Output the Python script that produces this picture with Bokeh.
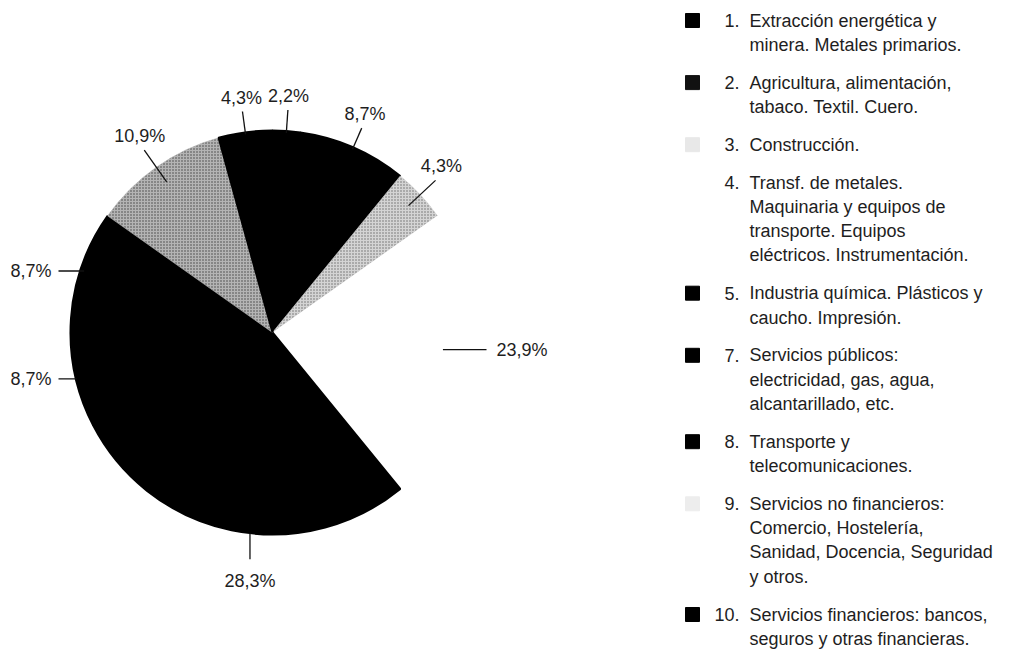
import math
from bokeh.plotting import figure
from bokeh.models import Range1d
from bokeh.core.properties import value
from bokeh.embed import file_html
from bokeh.resources import INLINE

# ---------------- data ----------------
numbers = ["1.", "2.", "3.", "4.", "5.", "7.", "8.", "9.", "10."]
descriptions = [
    ["Extracción energética y", "minera. Metales primarios."],
    ["Agricultura, alimentación,", "tabaco. Textil. Cuero."],
    ["Construcción."],
    ["Transf. de metales.", "Maquinaria y equipos de", "transporte. Equipos",
     "eléctricos. Instrumentación."],
    ["Industria química. Plásticos y", "caucho. Impresión."],
    ["Servicios públicos:", "electricidad, gas, agua,", "alcantarillado, etc."],
    ["Transporte y", "telecomunicaciones."],
    ["Servicios no financieros:", "Comercio, Hostelería,",
     "Sanidad, Docencia, Seguridad", "y otros."],
    ["Servicios financieros: bancos,", "seguros y otras financieras."],
]
shares = [2.2, 8.7, 4.3, 23.9, 28.3, 8.7, 8.7, 10.9, 4.3]

# ---------------- styles ----------------
slice_colors = ["#000000", "#000000", "#d4d4d4", "#ffffff", "#000000",
                "#000000", "#000000", "#b4b4b4", "#000000"]
slice_hatch = [None, None, "#6a6a6a", None, None, None, None, "#404040", None]
marker_colors = ["#000000", "#111111", "#e8e8e8", None, "#000000",
                 "#000000", "#000000", "#ededed", "#000000"]
leader_inner = [200, 200, 186, 172, 200, 200, 200, 184, 200]
FONT = "Liberation Sans"
TXT = "#1e1e1e"

W, H = 1003, 651
p = figure(width=W, height=H, output_backend="svg", toolbar_location=None,
           x_range=Range1d(0, W), y_range=Range1d(-H, 0), min_border=0)
p.axis.visible = False
p.grid.visible = False
p.outline_line_color = None
p.background_fill_color = "white"
p.border_fill_color = "white"


def X(px):
    return px


def Y(py):
    return -py


# ---------------- pie ----------------
cx, cy, R = X(272), Y(332), 202
total = sum(shares)
cum = 0.0
for i, v in enumerate(shares):
    t0 = cum / total * 2 * math.pi
    cum += v
    t1 = cum / total * 2 * math.pi
    col = slice_colors[i]
    kw = {}
    if slice_hatch[i]:
        kw = dict(hatch_pattern="dot", hatch_color=slice_hatch[i],
                  hatch_scale=3, hatch_weight=1.2)
    p.wedge(x=[cx], y=[cy], radius=R,
            start_angle=math.pi / 2 - t0, end_angle=math.pi / 2 - t1,
            direction="clock", fill_color=col,
            line_color=None if col == "#ffffff" else col,
            line_width=2 if col == "#000000" else 0.6, **kw)

# labels with leaders
cum = 0.0
r_out = 223
for i, v in enumerate(shares):
    tm = (cum + v / 2) / total * 2 * math.pi
    cum += v
    s, c = math.sin(tm), math.cos(tm)
    lab = f"{v:.1f}".replace(".", ",") + "%"
    if abs(s) > 0.9:
        # horizontal leader
        x0 = cx + leader_inner[i] * s
        y0 = cy + leader_inner[i] * c + 6 * s
        x1, y1 = cx + math.copysign(R + 12, s), y0
        if s > 0:
            tx, ty, al = x1 + 10, y1, "left"
        else:
            tx, ty, al = x1 - 7, y1, "right"
    elif c < -0.9:
        # vertical leader below
        x0 = cx + R * s * 0.55
        y0 = cy - math.sqrt(R * R - (x0 - cx) ** 2)
        x1, y1 = x0, y0 - 26
        tx, ty, al = x1, y1 - 22, "center"
    else:
        x0, y0 = cx + leader_inner[i] * s, cy + leader_inner[i] * c
        x1, y1 = cx + r_out * s, cy + r_out * c
        tx, ty, al = x1 + 8 * s, y1 + 14, "center"
    p.segment(x0=[x0], y0=[y0], x1=[x1], y1=[y1], line_color="#111111",
              line_width=1.3)
    p.text(x=[tx], y=[ty], text=[lab], text_font=value(FONT),
           text_font_size="18px", text_align=al, text_baseline="middle",
           text_color=TXT)

# ---------------- legend ----------------
L, G, y_start = 24.3, 13.5, 20
ypos = y_start
for i, num in enumerate(numbers):
    if marker_colors[i] is not None:
        p.rect(x=[X(692)], y=[Y(ypos)], width=14, height=14,
               fill_color=marker_colors[i], line_color=marker_colors[i])
    p.text(x=[X(739)], y=[Y(ypos)], text=[num], text_font=value(FONT),
           text_font_size="18px", text_align="right", text_baseline="middle",
           text_color=TXT)
    for j, line in enumerate(descriptions[i]):
        p.text(x=[X(749)], y=[Y(ypos + j * L)], text=[line],
               text_font=value(FONT), text_font_size="18px",
               text_align="left", text_baseline="middle", text_color=TXT)
    ypos += len(descriptions[i]) * L + G

open("out.html", "w").write(file_html(p, INLINE))
